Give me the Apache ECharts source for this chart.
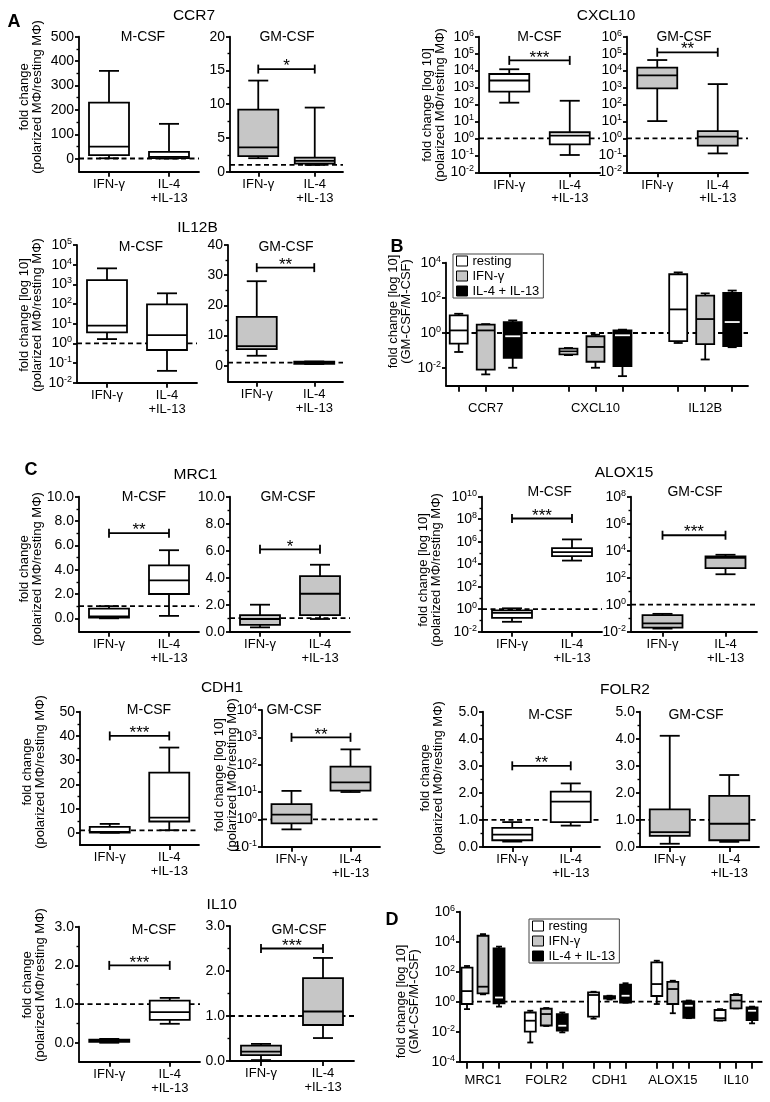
<!DOCTYPE html>
<html><head><meta charset="utf-8">
<script src="https://cdn.jsdelivr.net/npm/echarts@6.0.0/dist/echarts.min.js"></script>
<style>html,body{margin:0;padding:0;background:#fff}#c{width:770px;height:1102px}</style>
</head><body><div id="c"></div><script>
// ---------------- categories ----------------
const treatments = ['IFN-γ', 'IL-4\n+IL-13'];
const ratioGroups = ['resting', 'IFN-γ', 'IL-4 + IL-13'];
const panelBGenes = ['CCR7', 'CXCL10', 'IL12B'];
const panelDGenes = ['MRC1', 'FOLR2', 'CDH1', 'ALOX15', 'IL10'];

// ---------------- box values: [min, Q1, median, Q3, max] per treatment ----------------
const ccr7M   = [[2, 15, 50, 230, 360], [1, 3, 8, 28, 143]];
const ccr7GM  = [[2.0, 2.3, 3.6, 9.2, 13.5], [1.0, 1.2, 1.6, 2.1, 9.5]];
const cxcl10M = [[128, 575, 2600, 6300, 12000], [0.105, 0.45, 1.45, 2.3, 166]];
const cxcl10GM= [[10.5, 900, 5200, 15000, 42000], [0.13, 0.37, 1.26, 2.7, 1600]];
const il12bM  = [[1.65, 3.6, 8, 1650, 6500], [0.04, 0.46, 2.6, 95, 350]];
const il12bGM = [[3.3, 5.5, 6.5, 16.2, 28], [0.55, 0.6, 1.0, 1.35, 1.4]];
const mrc1M   = [[0.0, 0.05, 0.15, 0.8, 1.0], [0.2, 2.0, 3.12, 4.36, 5.6]];
const mrc1GM  = [[0.32, 0.5, 0.94, 1.23, 2.0], [0.94, 1.23, 2.81, 4.12, 4.96]];
const alox15M = [[0.076, 0.17, 0.48, 0.8, 1.2], [21000, 52000, 120000, 270000, 1600000]];
const alox15GM= [[0.017, 0.02, 0.041, 0.17, 0.21], [180, 510, 3000, 3800, 5000]];
const cdh1M   = [[0.05, 0.1, 0.4, 2.5, 3.7], [1.1, 4.7, 6.3, 24.9, 35.2]];
const cdh1GM  = [[0.43, 0.71, 1.5, 3.6, 11], [10, 11.2, 22.6, 85, 363]];
const folr2M  = [[0.2, 0.25, 0.46, 0.71, 0.92], [0.79, 0.92, 1.68, 2.05, 2.35]];
const folr2GM = [[0.12, 0.41, 0.55, 1.39, 4.11], [0.19, 0.25, 0.86, 1.89, 2.66]];
const il10M   = [[0.0, 0.02, 0.05, 0.08, 0.1], [0.49, 0.59, 0.79, 1.09, 1.16]];
const il10GM  = [[0.02, 0.13, 0.21, 0.34, 0.38], [0.51, 0.8, 1.1, 1.84, 2.29]];

// panel B (GM-CSF / M-CSF ratio), per gene
const bResting = [[0.083, 0.25, 1.4, 10, 12.4], [0.055, 0.06, 0.09, 0.13, 0.14], [0.27, 0.34, 22, 2200, 2800]];
const bIFN     = [[0.0044, 0.0083, 1.4, 3.0, 3.2], [0.0105, 0.023, 0.16, 0.65, 0.8], [0.031, 0.23, 6.2, 135, 180]];
const bIL4     = [[0.0105, 0.038, 0.65, 4.2, 5.2], [0.0035, 0.013, 0.74, 1.4, 1.55], [0.155, 0.18, 4.2, 190, 260]];
// panel D
const dResting = [[0.32, 0.7, 5.1, 185, 240], [0.0019, 0.01, 0.054, 0.19, 0.25], [0.074, 0.1, 2.8, 4.2, 4.6], [0.7, 2.4, 15, 420, 540], [0.055, 0.057, 0.08, 0.28, 0.32]];
const dIFN     = [[3.1, 3.6, 10, 25000, 32000], [0.024, 0.026, 0.15, 0.34, 0.38], [1.4, 1.6, 2.0, 2.3, 2.5], [0.17, 0.7, 7, 21, 25], [0.36, 0.36, 1.2, 2.8, 3.2]];
const dIL4     = [[0.47, 0.78, 1.9, 3600, 4700], [0.009, 0.012, 0.025, 0.15, 0.19], [0.86, 0.86, 2.5, 13.5, 17], [0.08, 0.085, 0.54, 1.05, 1.2], [0.036, 0.06, 0.25, 0.42, 0.47]];

// ---------------- significance brackets [height, label] ----------------
const ccr7GMSig = [15.2, '*'];
const cxcl10MSig = [40000, '***'];
const cxcl10GMSig = [120000, '**'];
const il12bGMSig = [32.5, '**'];
const mrc1MSig = [7.0, '**'];
const mrc1GMSig = [6.1, '*'];
const alox15MSig = [1.15e8, '***'];
const alox15GMSig = [1.4e5, '***'];
const cdh1MSig = [40, '***'];
const cdh1GMSig = [1000, '**'];
const folr2MSig = [3.0, '**'];
const il10MSig = [2.0, '***'];
const il10GMSig = [2.5, '***'];

// ---------------- tick labels (log axes: exponents of 10) ----------------
const ticksCCR7M = [0, 100, 200, 300, 400, 500];
const ticksCCR7GM = [0, 5, 10, 15, 20];
const expCXCL10 = [-2, -1, 0, 1, 2, 3, 4, 5, 6];
const expIL12BM = [-2, -1, 0, 1, 2, 3, 4, 5];
const ticksIL12BGM = [0, 10, 20, 30, 40];
const ticksMRC1 = [0, 2, 4, 6, 8, 10];
const expALOX15M = [-2, 0, 2, 4, 6, 8, 10];
const expALOX15GM = [-2, 0, 2, 4, 6, 8];
const ticksCDH1M = [0, 10, 20, 30, 40, 50];
const expCDH1GM = [-1, 0, 1, 2, 3, 4];
const ticksFOLR2 = [0, 1, 2, 3, 4, 5];
const ticksIL10 = [0, 1, 2, 3];
const expB = [-2, 0, 2, 4];
const expD = [-4, -2, 0, 2, 4, 6];

// ---------------- style ----------------
const FONT = 'Liberation Sans, Arial, Helvetica, sans-serif';
const LW = 1.8, BLACK = '#000', GRAY = '#c6c6c6', WHITE = '#fff';
const LOG = v => Math.log10(v);
const mids = t => t.slice(1).map((v, i) => (v + t[i]) / 2);
const FMT = {
  int: v => String(Math.round(v)),
  dec1: v => (Math.round(v * 10) / 10).toFixed(1),
  exp: v => '{b|10}{s|' + Math.round(v) + '}'
};
const RICH = {
  b: {fontSize: 14, fontFamily: FONT, color: BLACK, lineHeight: 16},
  s: {fontSize: 9, fontFamily: FONT, color: BLACK, verticalAlign: 'top', lineHeight: 10}
};

const option = {animation: false, backgroundColor: '#fff', grid: [], xAxis: [], yAxis: [], series: [], legend: [], graphic: []};

function boxRenderer(fill, medColor, boxW, capW, dx) {
  return function (params, api) {
    const xv = api.value(0) + dx;
    const P = k => api.coord([xv, api.value(k)]);
    const pMin = P(1), pQ1 = P(2), pMed = P(3), pQ3 = P(4), pMax = P(5);
    const x = pMin[0], hw = boxW / 2, hc = capW / 2;
    const ls = {stroke: BLACK, lineWidth: LW, fill: null};
    const inset = medColor === BLACK ? 0 : 1.5;
    return {type: 'group', children: [
      {type: 'line', shape: {x1: x, y1: pQ3[1], x2: x, y2: pMax[1]}, style: ls},
      {type: 'line', shape: {x1: x - hc, y1: pMax[1], x2: x + hc, y2: pMax[1]}, style: ls},
      {type: 'line', shape: {x1: x, y1: pQ1[1], x2: x, y2: pMin[1]}, style: ls},
      {type: 'line', shape: {x1: x - hc, y1: pMin[1], x2: x + hc, y2: pMin[1]}, style: ls},
      {type: 'rect', shape: {x: x - hw, y: pQ3[1], width: boxW, height: pQ1[1] - pQ3[1]}, style: {fill: fill, stroke: BLACK, lineWidth: LW}},
      {type: 'line', shape: {x1: x - hw + inset, y1: pMed[1], x2: x + hw - inset, y2: pMed[1]}, style: {stroke: medColor, lineWidth: LW}}
    ]};
  };
}

function refLine(xi, yi, yv) {
  return {type: 'custom', xAxisIndex: xi, yAxisIndex: yi, z: 1, silent: true, data: [[0, yv]], encode: {x: 0, y: 1},
    renderItem(params, api) {
      const cs = params.coordSys;
      const y = api.coord([api.value(0), api.value(1)])[1];
      return {type: 'line', shape: {x1: cs.x, y1: y, x2: cs.x + cs.width, y2: y}, style: {stroke: BLACK, lineWidth: LW, lineDash: [5, 3.5]}};
    }};
}

function bracket(xi, yi, yv, label) {
  return {type: 'custom', xAxisIndex: xi, yAxisIndex: yi, z: 4, silent: true, data: [[0, 1, yv]], encode: {x: [0, 1], y: 2},
    renderItem(params, api) {
      const a = api.coord([api.value(0), api.value(2)]);
      const b = api.coord([api.value(1), api.value(2)]);
      const st = {stroke: BLACK, lineWidth: LW};
      return {type: 'group', children: [
        {type: 'line', shape: {x1: a[0], y1: a[1], x2: b[0], y2: b[1]}, style: st},
        {type: 'line', shape: {x1: a[0], y1: a[1] - 4.5, x2: a[0], y2: a[1] + 4.5}, style: st},
        {type: 'line', shape: {x1: b[0], y1: b[1] - 4.5, x2: b[0], y2: b[1] + 4.5}, style: st},
        {type: 'text', style: {text: label, x: (a[0] + b[0]) / 2, y: a[1] - 2.5, align: 'center', verticalAlign: 'middle', fontSize: 17, fontFamily: FONT, fill: BLACK}}
      ]};
    }};
}

function yAxisFor(gi, p) {
  const axes = [{
    gridIndex: gi, type: 'value', position: 'left', min: p.min, max: p.max,
    axisLine: {show: true, onZero: false, lineStyle: {color: BLACK, width: LW}},
    axisTick: {show: true, inside: false, length: 4, customValues: p.ticks, lineStyle: {color: BLACK, width: LW}},
    axisLabel: {show: true, customValues: p.ticks, margin: 5, color: BLACK, fontSize: 14, fontFamily: FONT, formatter: FMT[p.fmt], rich: RICH},
    splitLine: {show: false}, minorTick: {show: false}, minorSplitLine: {show: false}
  }];
  if (p.minor) axes.push({
    gridIndex: gi, type: 'value', position: 'left', min: p.min, max: p.max,
    axisLine: {show: false, onZero: false},
    axisTick: {show: true, inside: false, length: 2.5, customValues: p.minor, lineStyle: {color: BLACK, width: 1.4}},
    axisLabel: {show: false}, splitLine: {show: false}
  });
  return axes;
}

function addGrid(box) {
  option.grid.push({left: box[0], top: box[1], width: box[2] - box[0], height: box[3] - box[1], containLabel: false});
  return option.grid.length - 1;
}

function addBoxPanel(p) {
  const gi = addGrid(p.box);
  const xi = option.xAxis.length;
  option.xAxis.push({
    gridIndex: gi, type: 'category', data: treatments, boundaryGap: true,
    axisLine: {show: true, onZero: false, lineStyle: {color: BLACK, width: LW}},
    axisTick: {show: true, alignWithLabel: true, length: 5, lineStyle: {color: BLACK, width: LW}},
    axisLabel: {interval: 0, margin: 6, color: BLACK, fontSize: 13, lineHeight: 13.5, fontFamily: FONT},
    splitLine: {show: false}
  });
  const yi = option.yAxis.length;
  yAxisFor(gi, p).forEach(a => option.yAxis.push(a));
  const tf = p.log ? LOG : (v => v);
  option.series.push(refLine(xi, yi, tf(1)));
  option.series.push({
    type: 'custom', name: p.name, xAxisIndex: xi, yAxisIndex: yi, z: 3, silent: true,
    data: p.data.map((d, i) => [i].concat(d.map(tf))),
    encode: {x: 0, y: [1, 2, 3, 4, 5]},
    renderItem: boxRenderer(p.fill, BLACK, 40, 20, 0)
  });
  if (p.sig) option.series.push(bracket(xi, yi, tf(p.sig[0]), p.sig[1]));
}

function addRatioPanel(p) {
  const gi = addGrid(p.box);
  const xi = option.xAxis.length;
  const tickVals = [];
  p.genes.forEach((g, i) => tickVals.push(i - p.dx, i, i + p.dx));
  option.xAxis.push({
    gridIndex: gi, type: 'value', min: p.xmin, max: p.xmax,
    axisLine: {show: true, onZero: false, lineStyle: {color: BLACK, width: LW}},
    axisTick: {show: true, length: p.tickLen, customValues: tickVals, lineStyle: {color: BLACK, width: LW}},
    axisLabel: {customValues: p.genes.map((g, i) => i), formatter: v => p.genes[Math.round(v)], margin: p.labelMargin, color: BLACK, fontSize: 13, fontFamily: FONT},
    splitLine: {show: false}
  });
  const yi = option.yAxis.length;
  yAxisFor(gi, p).forEach(a => option.yAxis.push(a));
  option.series.push(refLine(xi, yi, 0));
  const fills = [WHITE, GRAY, BLACK], meds = [BLACK, BLACK, WHITE];
  p.data.forEach((set, k) => {
    option.series.push({
      type: 'custom', name: ratioGroups[k], xAxisIndex: xi, yAxisIndex: yi, z: 3, silent: true,
      itemStyle: {color: fills[k], borderColor: BLACK, borderWidth: 1},
      data: set.map((d, i) => [i].concat(d.map(LOG))),
      encode: {x: 0, y: [1, 2, 3, 4, 5]},
      renderItem: boxRenderer(fills[k], meds[k], p.boxW, p.capW, (k - 1) * p.dx)
    });
  });
  option.legend.push({
    left: p.legend[0], top: p.legend[1], orient: 'vertical', data: ratioGroups, icon: 'rect',
    itemWidth: 11, itemHeight: 10, itemGap: 1, padding: [0, 4, 0, 3], borderColor: '#444', borderWidth: 1,
    selectedMode: false, textStyle: {fontSize: 13, fontFamily: FONT, color: BLACK, lineHeight: 14},
    itemStyle: {borderColor: BLACK, borderWidth: 1}
  });
}

// ---------------- panels ----------------
[
  {data: ccr7M, box: [79, 36.7, 199, 171.7], min: -53, max: 500, ticks: ticksCCR7M, minor: mids(ticksCCR7M), fmt: 'int', fill: WHITE},
  {data: ccr7GM, box: [230, 36.7, 343, 171.7], min: 0, max: 20, ticks: ticksCCR7GM, minor: mids(ticksCCR7GM), fmt: 'int', fill: GRAY, sig: ccr7GMSig},
  {data: cxcl10M, box: [479, 36.7, 600, 172.3], log: true, min: -2, max: 6, ticks: expCXCL10, fmt: 'exp', fill: WHITE, sig: cxcl10MSig},
  {data: cxcl10GM, box: [627, 36.7, 748, 172.3], log: true, min: -2, max: 6, ticks: expCXCL10, fmt: 'exp', fill: GRAY, sig: cxcl10GMSig},
  {data: il12bM, box: [77, 245, 197, 382.7], log: true, min: -2, max: 5, ticks: expIL12BM, fmt: 'exp', fill: WHITE},
  {data: il12bGM, box: [228, 245, 343, 381.7], min: -5.3, max: 40, ticks: ticksIL12BGM, minor: mids(ticksIL12BGM), fmt: 'int', fill: GRAY, sig: il12bGMSig},
  {data: mrc1M, box: [79, 496.7, 199, 631.7], min: -1.1, max: 10, ticks: ticksMRC1, minor: mids(ticksMRC1), fmt: 'dec1', fill: WHITE, sig: mrc1MSig},
  {data: mrc1GM, box: [230, 496.7, 350, 631.7], min: 0, max: 10, ticks: ticksMRC1, minor: mids(ticksMRC1), fmt: 'dec1', fill: GRAY, sig: mrc1GMSig},
  {data: alox15M, box: [482, 496.7, 602, 631.7], log: true, min: -2, max: 10, ticks: expALOX15M, minor: mids(expALOX15M), fmt: 'exp', fill: WHITE, sig: alox15MSig},
  {data: alox15GM, box: [631, 496.7, 757, 631.7], log: true, min: -2, max: 8, ticks: expALOX15GM, minor: mids(expALOX15GM), fmt: 'exp', fill: GRAY, sig: alox15GMSig},
  {data: cdh1M, box: [80, 711.7, 199, 845], min: -5, max: 50, ticks: ticksCDH1M, minor: mids(ticksCDH1M), fmt: 'int', fill: WHITE, sig: cdh1MSig},
  {data: cdh1GM, box: [262, 710, 380, 846.7], log: true, min: -1, max: 4, ticks: expCDH1GM, fmt: 'exp', fill: GRAY, sig: cdh1GMSig},
  {data: folr2M, box: [483, 711.7, 600, 847], min: 0, max: 5, ticks: ticksFOLR2, minor: mids(ticksFOLR2), fmt: 'dec1', fill: WHITE, sig: folr2MSig},
  {data: folr2GM, box: [640, 711.7, 759, 847], min: 0, max: 5, ticks: ticksFOLR2, minor: mids(ticksFOLR2), fmt: 'dec1', fill: GRAY},
  {data: il10M, box: [79, 926.7, 200, 1061.7], min: -0.49, max: 3, ticks: ticksIL10, minor: mids(ticksIL10), fmt: 'dec1', fill: WHITE, sig: il10MSig},
  {data: il10GM, box: [230, 926, 354, 1061], min: 0, max: 3, ticks: ticksIL10, minor: mids(ticksIL10), fmt: 'dec1', fill: GRAY, sig: il10GMSig}
].forEach(addBoxPanel);

addRatioPanel({genes: panelBGenes, data: [bResting, bIFN, bIL4], box: [446, 262.7, 748, 385.7], xmin: -0.362, xmax: 2.39,
  min: -3, max: 4, ticks: expB, fmt: 'exp', dx: 0.246, boxW: 18, capW: 9, tickLen: 6, labelMargin: 16, legend: [453, 254]});
addRatioPanel({genes: panelDGenes, data: [dResting, dIFN, dIL4], box: [460, 911.7, 762, 1061.7], xmin: -0.364, xmax: 4.41,
  min: -4, max: 6, ticks: expD, fmt: 'exp', dx: 0.253, boxW: 11, capW: 6, tickLen: 7, labelMargin: 12, legend: [529, 919]});

// ---------------- texts ----------------
function txt(s, x, y, size, weight, rot, lh) {
  option.graphic.push({type: 'text', x: x, y: y, rotation: rot || 0, silent: true,
    style: {text: s, align: 'center', verticalAlign: 'middle', fontSize: size, fontWeight: weight || 'normal', fontFamily: FONT, fill: BLACK, lineHeight: lh || size * 1.15}});
}
[['A', 14, 22], ['B', 397, 247], ['C', 31, 470], ['D', 392, 920]].forEach(t => txt(t[0], t[1], t[2], 18, 'bold'));
[['CCR7', 194, 15.5], ['CXCL10', 606, 15.5], ['IL12B', 197.5, 228], ['MRC1', 195.5, 475], ['ALOX15', 624, 473],
 ['CDH1', 222, 688], ['FOLR2', 625, 690], ['IL10', 221.7, 905]].forEach(t => txt(t[0], t[1], t[2], 15.5));
[[143, 37, 287, 37], [539.5, 36.7, 684, 36.7], [141, 246.7, 286, 246.7], [144, 496.7, 288, 496.7], [549.7, 492, 695, 492],
 [149, 710.5, 294, 710], [550.5, 715, 696, 715], [154, 930, 299, 930]].forEach(t => { txt('M-CSF', t[0], t[1], 14); txt('GM-CSF', t[2], t[3], 14); });
const LIN = 'fold change\n(polarized MΦ/resting MΦ)';
const LOGL = 'fold change [log 10]\n(polarized MΦ/resting MΦ)';
const RAT = 'fold change [log 10]\n(GM-CSF/M-CSF)';
[[LIN, 31, 97], [LOGL, 434, 105], [LOGL, 31, 315], [RAT, 400, 311.5], [LIN, 31, 569], [LOGL, 430, 570],
 [LIN, 34, 772], [LOGL, 226, 775], [LIN, 432, 778], [LIN, 34, 985], [RAT, 408, 1001.5]].forEach(t => txt(t[0], t[1], t[2], 13, 'normal', Math.PI / 2, 12.5));

const chart = echarts.init(document.getElementById('c'), null, {renderer: 'canvas'});
chart.setOption(option);
</script></body></html>
